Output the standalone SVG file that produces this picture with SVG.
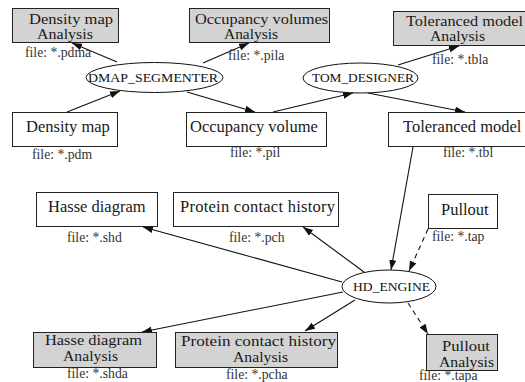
<svg xmlns="http://www.w3.org/2000/svg" width="525" height="382" viewBox="0 0 525 382">
<style>
.box{fill:#fff;stroke:#222;stroke-width:1}
.ana{fill:#d3d3d3;stroke:#222;stroke-width:1}
.ell{fill:#fff;stroke:#111;stroke-width:1}
.t{font-family:"Liberation Serif","Times New Roman",serif;font-size:16.5px;fill:#1a1a1a}
.t2{font-family:"Liberation Serif","Times New Roman",serif;font-size:15px;fill:#1a1a1a}
.f{font-family:"Liberation Serif","Times New Roman",serif;font-size:13.7px;fill:#333}
.e{font-family:"Liberation Serif","Times New Roman",serif;font-size:12.5px;fill:#111}
.c line{stroke:#111;stroke-width:1.1;marker-end:url(#ah)}
.c line.d{stroke-dasharray:5 4}
</style>
<defs>
<marker id="ah" markerUnits="userSpaceOnUse" markerWidth="11" markerHeight="8" refX="10" refY="3.5" orient="auto" viewBox="0 0 11 8">
<path d="M0,0 L10,3.5 L0,7 z" fill="#111"/>
</marker>
</defs>
<g class="c" id="connectors">
<line x1="117" y1="62" x2="72" y2="43"/>
<line x1="203" y1="63" x2="249" y2="43"/>
<line x1="67" y1="112" x2="120" y2="91"/>
<line x1="187" y1="92" x2="255" y2="112"/>
<line x1="273" y1="112" x2="353" y2="93"/>
<line x1="398" y1="65" x2="459" y2="46"/>
<line x1="368" y1="93" x2="465" y2="112"/>
<line x1="413" y1="147" x2="391" y2="270"/>
<line class="d" x1="428" y1="229" x2="409" y2="271"/>
<line x1="364" y1="272" x2="303" y2="227"/>
<line x1="342" y1="282" x2="143" y2="227"/>
<line x1="343" y1="292" x2="142" y2="332"/>
<line x1="355" y1="300" x2="305" y2="331"/>
<line class="d" x1="408" y1="303" x2="428" y2="334"/>
</g>
<g id="n_dma">
<rect class="ana" x="12.5" y="8.5" width="106" height="34"/>
<text class="t2" x="29" y="24" textLength="84" lengthAdjust="spacingAndGlyphs">Density map</text>
<text class="t2" x="37" y="39" textLength="56" lengthAdjust="spacingAndGlyphs">Analysis</text>
<text class="f" x="25" y="57">file: *.pdma</text>
</g>
<g id="n_ova">
<rect class="ana" x="189.5" y="8.5" width="140" height="34"/>
<text class="t2" x="195" y="24" textLength="133" lengthAdjust="spacingAndGlyphs">Occupancy volumes</text>
<text class="t2" x="224" y="39" textLength="54" lengthAdjust="spacingAndGlyphs">Analysis</text>
<text class="f" x="228" y="60">file: *.pila</text>
</g>
<g id="n_tma">
<rect class="ana" x="393.5" y="11.5" width="140" height="34"/>
<text class="t2" x="406" y="26" textLength="117" lengthAdjust="spacingAndGlyphs">Toleranced model</text>
<text class="t2" x="430" y="41" textLength="55" lengthAdjust="spacingAndGlyphs">Analysis</text>
<text class="f" x="432" y="64">file: *.tbla</text>
</g>
<g id="n_dmap">
<ellipse class="ell" cx="154.5" cy="77.5" rx="68.5" ry="15"/>
<text class="e" x="88" y="82" textLength="130" lengthAdjust="spacingAndGlyphs">DMAP_SEGMENTER</text>
</g>
<g id="n_tom">
<ellipse class="ell" cx="360.5" cy="78" rx="57.5" ry="15"/>
<text class="e" x="312" y="82" textLength="102" lengthAdjust="spacingAndGlyphs">TOM_DESIGNER</text>
</g>
<g id="n_dm">
<rect class="box" x="12.5" y="112.5" width="105" height="34"/>
<text class="t" x="26" y="132">Density map</text>
<text class="f" x="32" y="159">file: *.pdm</text>
</g>
<g id="n_ov">
<rect class="box" x="186.5" y="112.5" width="140" height="34"/>
<text class="t" x="190" y="132">Occupancy volume</text>
<text class="f" x="230" y="157">file: *.pil</text>
</g>
<g id="n_tm">
<rect class="box" x="388.5" y="112.5" width="140" height="34"/>
<text class="t" x="403" y="132">Toleranced model</text>
<text class="f" x="443" y="157">file: *.tbl</text>
</g>
<g id="n_hd">
<rect class="box" x="36.5" y="192.5" width="121" height="34"/>
<text class="t" x="48" y="212">Hasse diagram</text>
<text class="f" x="67" y="242">file: *.shd</text>
</g>
<g id="n_pch">
<rect class="box" x="173.5" y="192.5" width="165" height="34"/>
<text class="t" x="180" y="212" textLength="155" lengthAdjust="spacing">Protein contact history</text>
<text class="f" x="229" y="242">file: *.pch</text>
</g>
<g id="n_po">
<rect class="box" x="428.5" y="194.5" width="69" height="34"/>
<text class="t" x="441" y="215">Pullout</text>
<text class="f" x="432" y="241">file: *.tap</text>
</g>
<g id="n_hde">
<ellipse class="ell" cx="389" cy="286.5" rx="47" ry="16.5"/>
<text class="e" x="353" y="291" textLength="77" lengthAdjust="spacingAndGlyphs">HD_ENGINE</text>
</g>
<g id="n_hda">
<rect class="ana" x="33.5" y="332.5" width="123" height="35"/>
<text class="t2" x="45" y="345" textLength="97" lengthAdjust="spacingAndGlyphs">Hasse diagram</text>
<text class="t2" x="63" y="361" textLength="55" lengthAdjust="spacingAndGlyphs">Analysis</text>
<text class="f" x="67" y="378">file: *.shda</text>
</g>
<g id="n_pcha">
<rect class="ana" x="175.5" y="332.5" width="162" height="35"/>
<text class="t2" x="181" y="346" textLength="155" lengthAdjust="spacingAndGlyphs">Protein contact history</text>
<text class="t2" x="233" y="362" textLength="55" lengthAdjust="spacingAndGlyphs">Analysis</text>
<text class="f" x="226" y="379">file: *.pcha</text>
</g>
<g id="n_poa">
<rect class="ana" x="426.5" y="334.5" width="71" height="36"/>
<text class="t2" x="442" y="351" textLength="48" lengthAdjust="spacingAndGlyphs">Pullout</text>
<text class="t2" x="439" y="367" textLength="55" lengthAdjust="spacingAndGlyphs">Analysis</text>
<text class="f" x="419" y="380">file: *.tapa</text>
</g>
</svg>
